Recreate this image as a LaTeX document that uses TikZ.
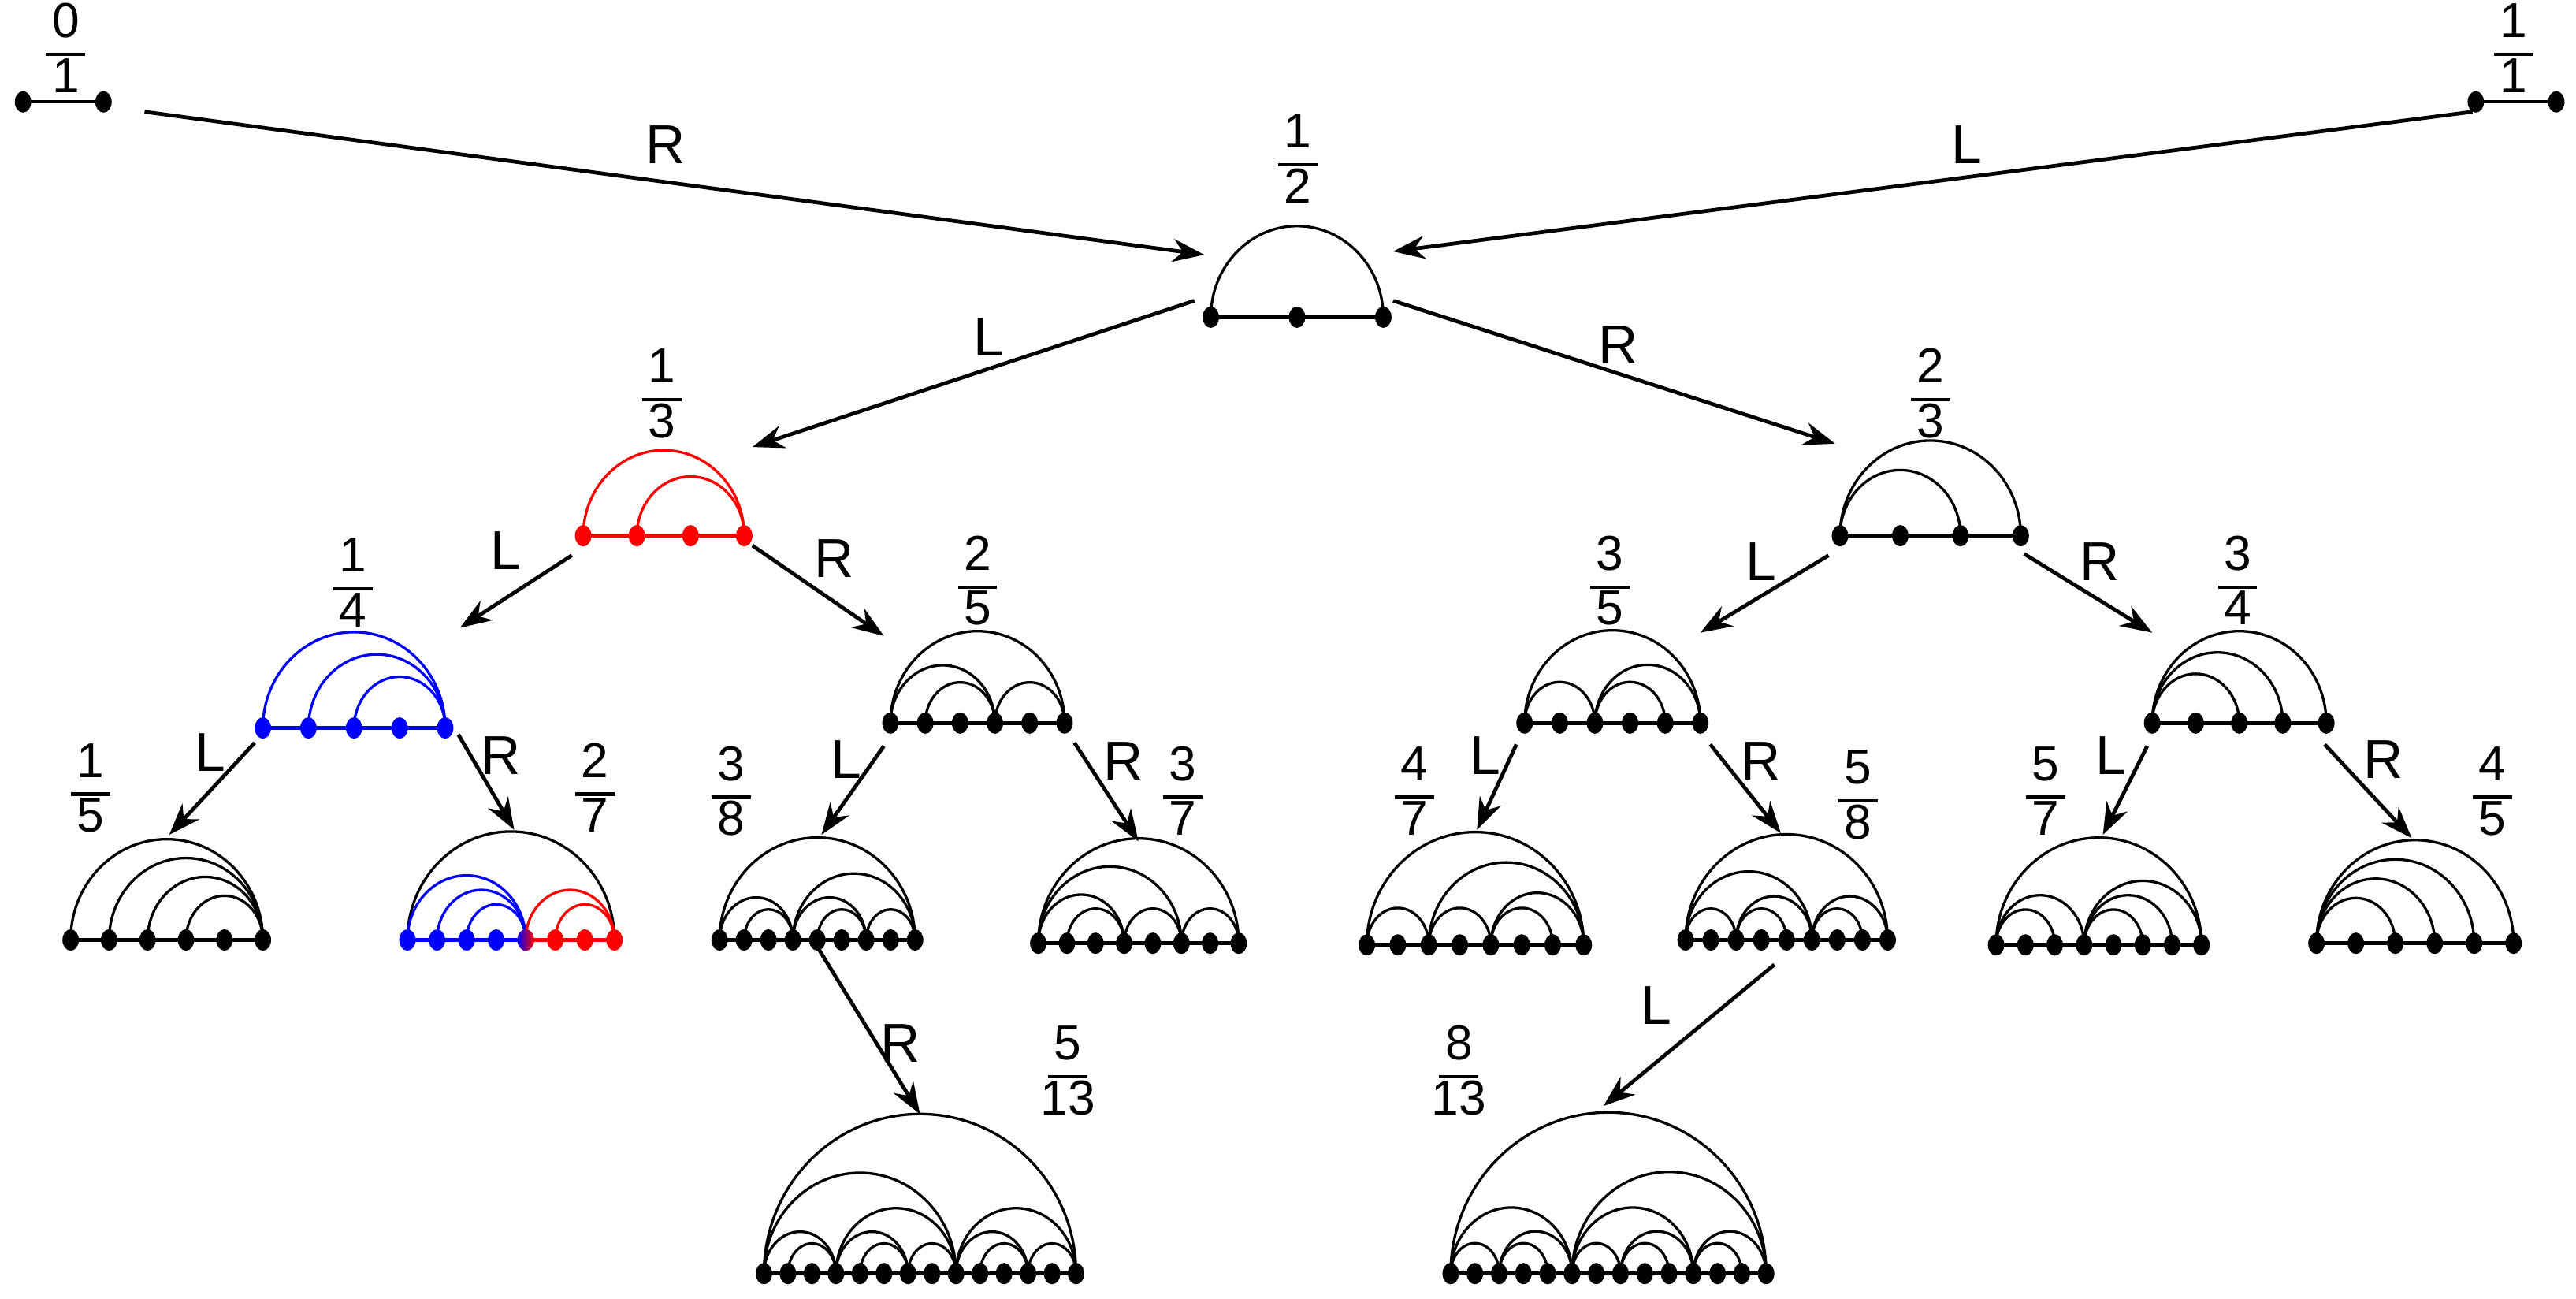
\documentclass[tikz,border=0pt]{standalone}
\usepackage{fontspec}
\setmainfont{Liberation Sans}
\usetikzlibrary{arrows.meta}
\newcommand\dia[6]{%
 \pgfmathsetmacro\dstep{(#2-#1)/(#4-1)}%
 \draw[#6,line width=1.3pt] (#1,#3) -- (#2,#3);
 \foreach \i/\j in {#5}{%
   \pgfmathsetmacro\dr{(\j-\i)*\dstep/2}%
   \pgfmathsetmacro\dh{0.98*\dr+4}%
   \draw[#6,line width=0.9pt] ({#1+\i*\dstep},#3) arc[start angle=180,end angle=360,x radius=\dr,y radius=\dh];}
 \foreach \k in {1,...,#4}{\fill[#6] ({#1+(\k-1)*\dstep},#3) ellipse[x radius=5,y radius=6.5];}
}
\newcommand\fr[2]{{\fontsize{17}{19}\selectfont\begin{tabular}{@{}c@{}}#1\\\ooalign{\hfil#2\hfil\cr\hfil\smash{\raisebox{0.74em}{\rule{0.8em}{0.07em}}}\hfil\cr}\end{tabular}}}
\begin{document}
\begin{tikzpicture}[x=0.02cm,y=-0.02cm,
  frac/.style={inner sep=0pt},
  lab/.style={font=\fontsize{19}{21}\selectfont,inner sep=0pt},
  dot/.style={x radius=5,y radius=6.5},
  arr/.style={line width=1.3pt,-{Stealth[length=11pt,width=8pt]}}]
\useasboundingbox (0,0) rectangle (1568,790);
% diagrams
\draw[line width=1pt] (14,62) -- (63,62);
\fill (14,62) ellipse[dot];
\fill (63,62) ellipse[dot];
\draw[line width=1pt] (1507,62) -- (1556,62);
\fill (1507,62) ellipse[dot];
\fill (1556,62) ellipse[dot];
\dia{737}{842}{193}{3}{0/2}{black}
\dia{355}{453}{326}{4}{0/3,1/3}{red}
\dia{1120}{1230}{326}{4}{0/3,0/2}{black}
\dia{160}{271}{443}{5}{0/4,1/4,2/4}{blue}
\dia{542}{648}{440}{6}{0/5,0/3,1/3,3/5}{black}
\dia{928}{1035}{440}{6}{0/5,0/2,2/5,2/4}{black}
\dia{1310}{1416}{440}{5}{0/4,0/3,0/2}{black}
\dia{43}{160}{572}{6}{0/5,1/5,2/5,3/5}{black}
\draw[line width=0.9pt] (248,572) arc[start angle=180,end angle=360,x radius=63,y radius=66];
\dia{248}{320}{572}{5}{0/4,1/4,2/4}{blue}
\dia{320}{374}{572}{4}{0/3,1/3}{red}
\shade[left color=blue,right color=red] (320,572) ellipse[dot];
\dia{438}{557}{572}{9}{0/8,0/3,1/3,3/8,3/6,4/6,6/8}{black}
\dia{632}{754}{574}{8}{0/7,0/5,0/3,1/3,3/5,5/7}{black}
\dia{832}{964}{575}{8}{0/7,2/7,0/2,2/4,4/7,4/6}{black}
\dia{1026}{1149}{572}{9}{0/8,0/5,0/2,2/5,2/4,5/8,5/7}{black}
\dia{1215}{1340}{575}{8}{0/7,0/3,0/2,3/7,3/6,3/5}{black}
\dia{1410}{1530}{574}{6}{0/5,0/4,0/3,0/2}{black}
\dia{465}{655}{775}{14}{0/13,0/8,0/3,1/3,3/8,3/6,4/6,6/8,8/13,8/11,9/11,11/13}{black}
\dia{883}{1075}{775}{14}{0/13,0/5,0/2,2/5,2/4,5/13,5/10,5/7,7/10,7/9,10/13,10/12}{black}
% fractions
\node[frac] (f01) at (40,33) {\fr{0}{1}};
\node[frac] (f11) at (1530,33) {\fr{1}{1}};
\node[frac] (f12) at (790,100) {\fr{1}{2}};
\node[frac] (f13) at (403,243) {\fr{1}{3}};
\node[frac] (f23) at (1175,243) {\fr{2}{3}};
\node[frac] (f14) at (215,358) {\fr{1}{4}};
\node[frac] (f25) at (595,357) {\fr{2}{5}};
\node[frac] (f35) at (980,357) {\fr{3}{5}};
\node[frac] (f34) at (1362,357) {\fr{3}{4}};
\node[frac] (f15) at (55,483) {\fr{1}{5}};
\node[frac] (f27) at (362,483) {\fr{2}{7}};
\node[frac] (f38) at (445,485) {\fr{3}{8}};
\node[frac] (f37) at (720,485) {\fr{3}{7}};
\node[frac] (f47) at (861,485) {\fr{4}{7}};
\node[frac] (f58) at (1131,487) {\fr{5}{8}};
\node[frac] (f57) at (1245,485) {\fr{5}{7}};
\node[frac] (f45) at (1517,485) {\fr{4}{5}};
\node[frac] (f513) at (650,655) {\fr{5}{13}};
\node[frac] (f813) at (888,655) {\fr{8}{13}};
% arrow endpoints
\coordinate (a1s) at (88,68);   \coordinate (a1e) at (733,155);
\coordinate (a2s) at (1505,68); \coordinate (a2e) at (848,153);
\coordinate (a3s) at (727,183); \coordinate (a3e) at (458,272);
\coordinate (a4s) at (848,183); \coordinate (a4e) at (1117,270);
\coordinate (a5s) at (348,338); \coordinate (a5e) at (280,382);
\coordinate (a6s) at (458,332); \coordinate (a6e) at (538,387);
\coordinate (a7s) at (1113,338); \coordinate (a7e) at (1035,385);
\coordinate (a8s) at (1232,337); \coordinate (a8e) at (1310,385);
\coordinate (a9s) at (155,452); \coordinate (a9e) at (103,508);
\coordinate (a10s) at (279,447); \coordinate (a10e) at (313,505);
\coordinate (a11s) at (538,454); \coordinate (a11e) at (500,508);
\coordinate (a12s) at (654,452); \coordinate (a12e) at (693,512);
\coordinate (a13s) at (923,453); \coordinate (a13e) at (899,505);
\coordinate (a14s) at (1041,453); \coordinate (a14e) at (1084,507);
\coordinate (a15s) at (1307,454); \coordinate (a15e) at (1280,508);
\coordinate (a16s) at (1415,453); \coordinate (a16e) at (1468,510);
\coordinate (a17s) at (498,577); \coordinate (a17e) at (560,678);
\coordinate (a18s) at (1080,587); \coordinate (a18e) at (976,673);
\foreach \k in {1,...,18}{\draw[arr] (a\k s) -- (a\k e);}
% labels
\node[lab] at (405,88) {R};
\node[lab] at (1197,88) {L};
\node[lab] at (602,205) {L};
\node[lab] at (985,210) {R};
\node[lab] at (308,335) {L};
\node[lab] at (508,340) {R};
\node[lab] at (1072,342) {L};
\node[lab] at (1278,342) {R};
\node[lab] at (128,458) {L};
\node[lab] at (305,460) {R};
\node[lab] at (515,462) {L};
\node[lab] at (684,463) {R};
\node[lab] at (904,460) {L};
\node[lab] at (1072,463) {R};
\node[lab] at (1285,460) {L};
\node[lab] at (1451,462) {R};
\node[lab] at (548,635) {R};
\node[lab] at (1008,612) {L};
\end{tikzpicture}
\end{document}
